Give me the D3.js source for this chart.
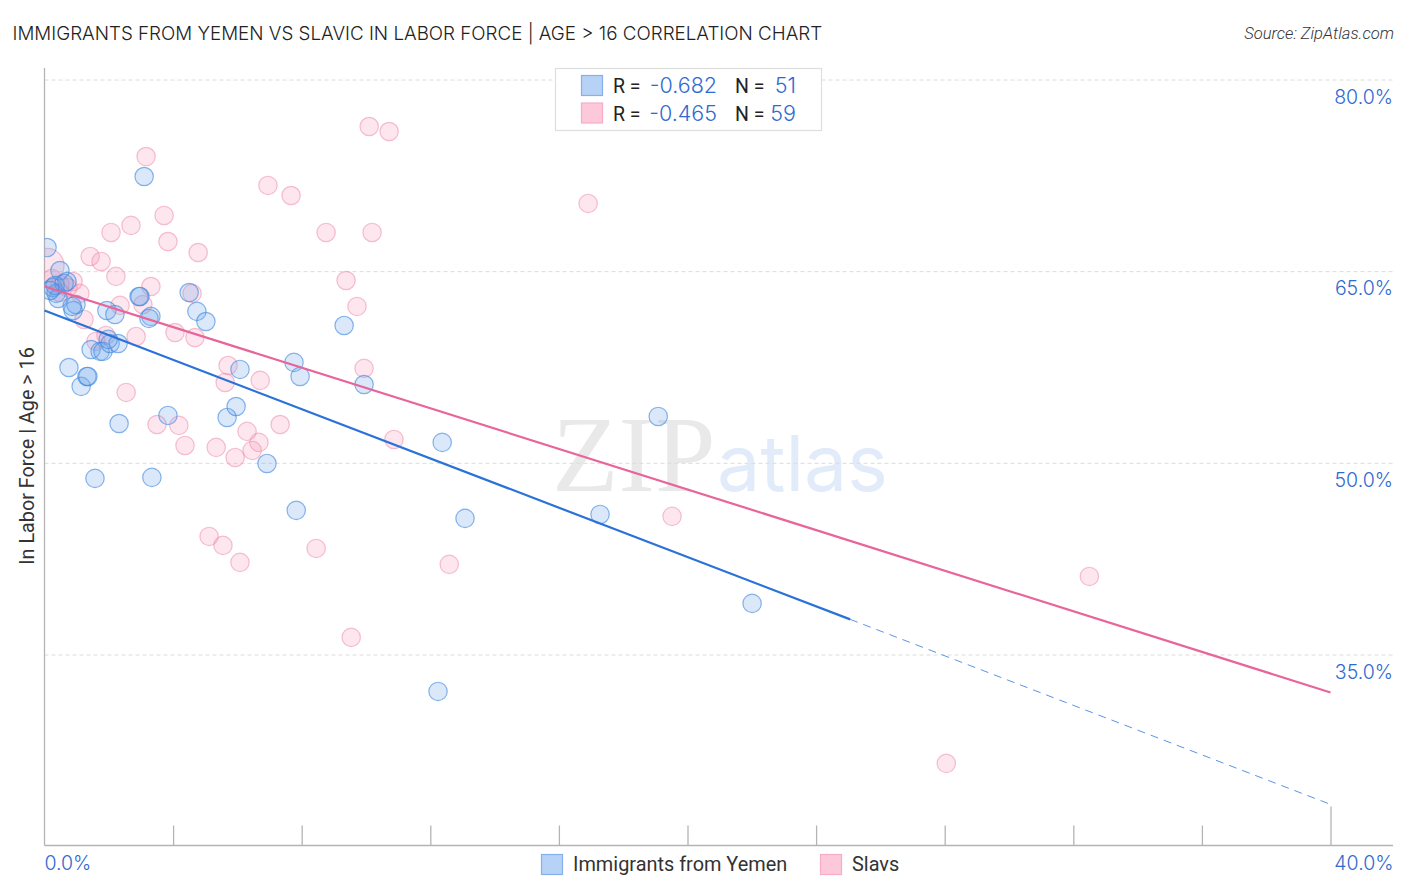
<!DOCTYPE html>
<html><head><meta charset="utf-8">
<script src="https://cdn.jsdelivr.net/npm/d3@7"></script>
<style>html,body{margin:0;padding:0;background:#fff}svg{display:block}</style></head>
<body><svg id="c" width="1406" height="892"></svg>
<script>
const titleText = "IMMIGRANTS FROM YEMEN VS SLAVIC IN LABOR FORCE | AGE > 16 CORRELATION CHART";
const sourceText = "Source: ZipAtlas.com";
const yAxisLabel = "In Labor Force | Age > 16";
const seriesNames = ["Immigrants from Yemen", "Slavs"];
const rValues = ["-0.682", "-0.465"];
const nValues = ["51", "59"];
const yTickValues = [80, 65, 50, 35];
const xTickValues = [4, 8, 12, 16, 20, 24, 28, 32, 36, 40];
const yemenX = [0.08,0.48,0.26,0.36,0.70,0.42,0.89,0.98,1.94,2.19,0.76,1.14,1.32,1.35,1.45,1.73,1.82,2.04,2.29,2.32,1.57,3.34,3.10,2.97,2.94,3.31,3.25,4.50,4.74,5.02,3.84,5.68,5.96,6.08,7.76,7.95,6.92,7.83,9.32,9.94,12.37,13.08,17.28,19.09,22.01,12.24,0.33,0.61,0.17,0.86,1.98];
const yemenY = [66.85,65.05,63.72,63.26,64.19,62.86,61.92,62.39,61.92,61.61,57.46,55.98,56.76,56.76,58.87,58.72,58.72,59.34,59.34,53.08,48.78,48.86,72.41,63.02,63.02,61.46,61.30,63.33,61.85,61.06,53.71,53.55,54.41,57.31,57.86,56.76,49.95,46.28,60.75,56.13,51.60,45.65,45.96,53.63,39.00,32.11,63.88,64.04,63.49,62.24,59.66];
const slavsX = [10.10,10.72,3.16,6.95,7.67,16.91,3.72,2.69,2.07,8.76,10.19,3.84,4.78,1.42,1.76,0.08,2.22,9.38,3.31,0.23,0.89,0.48,0.73,1.10,4.59,2.35,3.06,9.72,1.23,4.06,4.68,2.85,1.91,1.60,5.71,9.94,5.62,6.71,2.54,3.50,4.18,7.33,6.30,10.87,4.37,5.34,6.67,6.46,5.93,5.12,5.55,8.45,6.08,12.59,19.52,32.50,9.54,28.05,0.48];
const slavsY = [76.32,75.93,73.97,71.71,70.92,70.30,69.36,68.58,68.03,68.03,68.03,67.32,66.46,66.15,65.76,65.45,64.59,64.27,63.80,64.43,64.19,63.96,63.72,63.26,63.26,62.32,62.39,62.24,61.22,60.20,59.81,59.89,59.97,59.50,57.62,57.39,56.29,56.45,55.51,53.00,52.93,53.00,52.46,51.83,51.36,51.21,51.60,50.97,50.42,44.24,43.54,43.30,42.21,42.05,45.81,41.11,36.34,26.48,63.33];
const slavsWeight = slavsX.map((d,i)=> i===15 ? 3.4 : 1);
const yemenSolidX = [0, 25.06], yemenSolidY = [61.92, 37.75];
const yemenDashX = [25.06, 40], yemenDashY = [37.75, 23.27];
const slavsLineX = [0, 40], slavsLineY = [63.80, 32.03];

const BLUE_TXT="#2f6ad0", GREY="#b4b4b4";
const svg=d3.select("#c");
const x=d3.scaleLinear().domain([0,40]).range([44.5,1330.5]);
const y=d3.scaleLinear().domain([80,35]).range([79.5,654.5]);
const r=d3.scaleSqrt().domain([0,1]).range([0,9.2]);
const L=44.5,R=1393,B=845.5,T=68;
const sans="Inter, 'Open Sans', sans-serif", rob="Roboto, sans-serif";

svg.append("clipPath").attr("id","pl").append("rect").attr("x",L).attr("y",T).attr("width",R-L).attr("height",B-T);

// watermark
svg.append("text").attr("x",552).attr("y",491).attr("font-family","'Liberation Serif',serif").attr("font-size",109).attr("fill","#e9e9e9").text("ZIP");
svg.append("text").attr("x",717).attr("y",491).attr("font-family","Inter,sans-serif").attr("font-size",77).attr("fill","#e2ebfa").text("atlas");

// grid + y labels
const yAxis=d3.axisRight(y).tickValues(yTickValues).tickSize(R-L).tickFormat(d=>d3.format(".1f")(d)+"%");
const gy=svg.append("g").attr("transform",`translate(${L},0)`).call(yAxis);
gy.select(".domain").remove();
gy.selectAll("line").attr("stroke","#dcdcdc").attr("stroke-dasharray","4 3");
gy.selectAll("text").attr("x",R-L).attr("dy",23.5).attr("text-anchor","end").attr("font-family",sans).attr("font-size",19.5).attr("font-weight",300).attr("fill",BLUE_TXT);

// x axis
const xAxis=d3.axisBottom(x).tickValues(xTickValues).tickSize(0).tickFormat("");
const gx=svg.append("g").attr("transform",`translate(0,${B})`).call(xAxis);
gx.select(".domain").remove();
gx.selectAll("line").attr("y2",d=>d===40?-39:-20).attr("stroke",GREY).attr("stroke-width",1.3);
svg.append("line").attr("x1",L).attr("x2",R).attr("y1",B).attr("y2",B).attr("stroke",GREY).attr("stroke-width",1.3);
svg.append("line").attr("x1",L).attr("x2",L).attr("y1",T).attr("y2",B).attr("stroke",GREY).attr("stroke-width",1.3);
svg.append("text").attr("x",44.5).attr("y",870).attr("font-family",sans).attr("font-size",19.5).attr("font-weight",300).attr("fill",BLUE_TXT).text("0.0%");
svg.append("text").attr("x",1393.5).attr("y",870).attr("text-anchor","end").attr("font-family",sans).attr("font-size",19.5).attr("font-weight",300).attr("fill",BLUE_TXT).text("40.0%");

// points
const plot=svg.append("g").attr("clip-path","url(#pl)");
plot.append("g").selectAll("circle").data(slavsX).join("circle")
  .attr("cx",d=>x(d)).attr("cy",(d,i)=>y(slavsY[i])).attr("r",(d,i)=>r(slavsWeight[i]))
  .attr("fill","#f58fb0").attr("fill-opacity",.22).attr("stroke","#ee83a6").attr("stroke-opacity",.5).attr("stroke-width",1.2);
plot.append("g").selectAll("circle").data(yemenX).join("circle")
  .attr("cx",d=>x(d)).attr("cy",(d,i)=>y(yemenY[i])).attr("r",9.2)
  .attr("fill","#6aa5ec").attr("fill-opacity",.25).attr("stroke","#3a85dd").attr("stroke-opacity",.6).attr("stroke-width",1.2);

// trend lines
const ln=(xs,ys)=>d3.line().x(d=>x(d)).y((d,i)=>y(ys[i]))(xs);
svg.append("path").attr("d",ln(yemenSolidX,yemenSolidY)).attr("fill","none").attr("stroke","#2a72d8").attr("stroke-width",2.2);
svg.append("path").attr("d",ln(yemenDashX,yemenDashY)).attr("fill","none").attr("stroke","#4a87dd").attr("stroke-width",.9).attr("stroke-dasharray","8 6");
svg.append("path").attr("d",ln(slavsLineX,slavsLineY)).attr("fill","none").attr("stroke","#e8659a").attr("stroke-width",2.2);

// title etc
svg.append("text").attr("x",12.5).attr("y",40).attr("font-family",sans).attr("font-size",18.8).attr("font-weight",300).attr("fill","#222").text(titleText);
svg.append("text").attr("x",1394).attr("y",39).attr("text-anchor","end").attr("font-family",rob).attr("font-style","italic").attr("font-size",16.6).attr("font-weight",300).attr("fill","#333").text(sourceText);
svg.append("text").attr("transform","translate(34,456) rotate(-90)").attr("text-anchor","middle").attr("font-family",rob).attr("font-size",19.8).attr("fill","#333").text(yAxisLabel);

// top legend
const lg=svg.append("g");
lg.append("rect").attr("x",555.5).attr("y",68.5).attr("width",266).attr("height",62).attr("fill","#fff").attr("stroke","#dedede").attr("stroke-width",1.2);
const sw=[["#b7d2f7","#85b0ea"],["#fcc8da","#f6adc5"]];
[0,1].forEach(i=>{
  const yy=i===0?75:102.5, ty=i===0?93:120.5;
  lg.append("rect").attr("x",581.5).attr("y",yy+.5).attr("width",21).attr("height",20).attr("fill",sw[i][0]).attr("stroke",sw[i][1]).attr("stroke-width",1.2);
  lg.append("text").attr("x",613).attr("y",ty).attr("font-family",rob).attr("font-size",19.5).attr("fill","#222").text("R =");
  lg.append("text").attr("x",717).attr("y",ty).attr("text-anchor","end").attr("font-family",sans).attr("font-weight",300).attr("font-size",21.5).attr("fill",BLUE_TXT).text(rValues[i]);
  lg.append("text").attr("x",735).attr("y",ty).attr("font-family",rob).attr("font-size",19.5).attr("fill","#222").text("N =");
  lg.append("text").attr("x",796).attr("y",ty).attr("text-anchor","end").attr("font-family",sans).attr("font-weight",300).attr("font-size",21.5).attr("fill",BLUE_TXT).text(nValues[i]);
});

// bottom legend
[[541,573],[820,852]].forEach((p,i)=>{
  svg.append("rect").attr("x",p[0]+.5).attr("y",854.5).attr("width",21).attr("height",20).attr("fill",sw[i][0]).attr("stroke",sw[i][1]).attr("stroke-width",1.2);
  svg.append("text").attr("x",p[1]).attr("y",871).attr("font-family",rob).attr("font-size",19.9).attr("fill","#333").text(seriesNames[i]);
});
</script></body></html>
